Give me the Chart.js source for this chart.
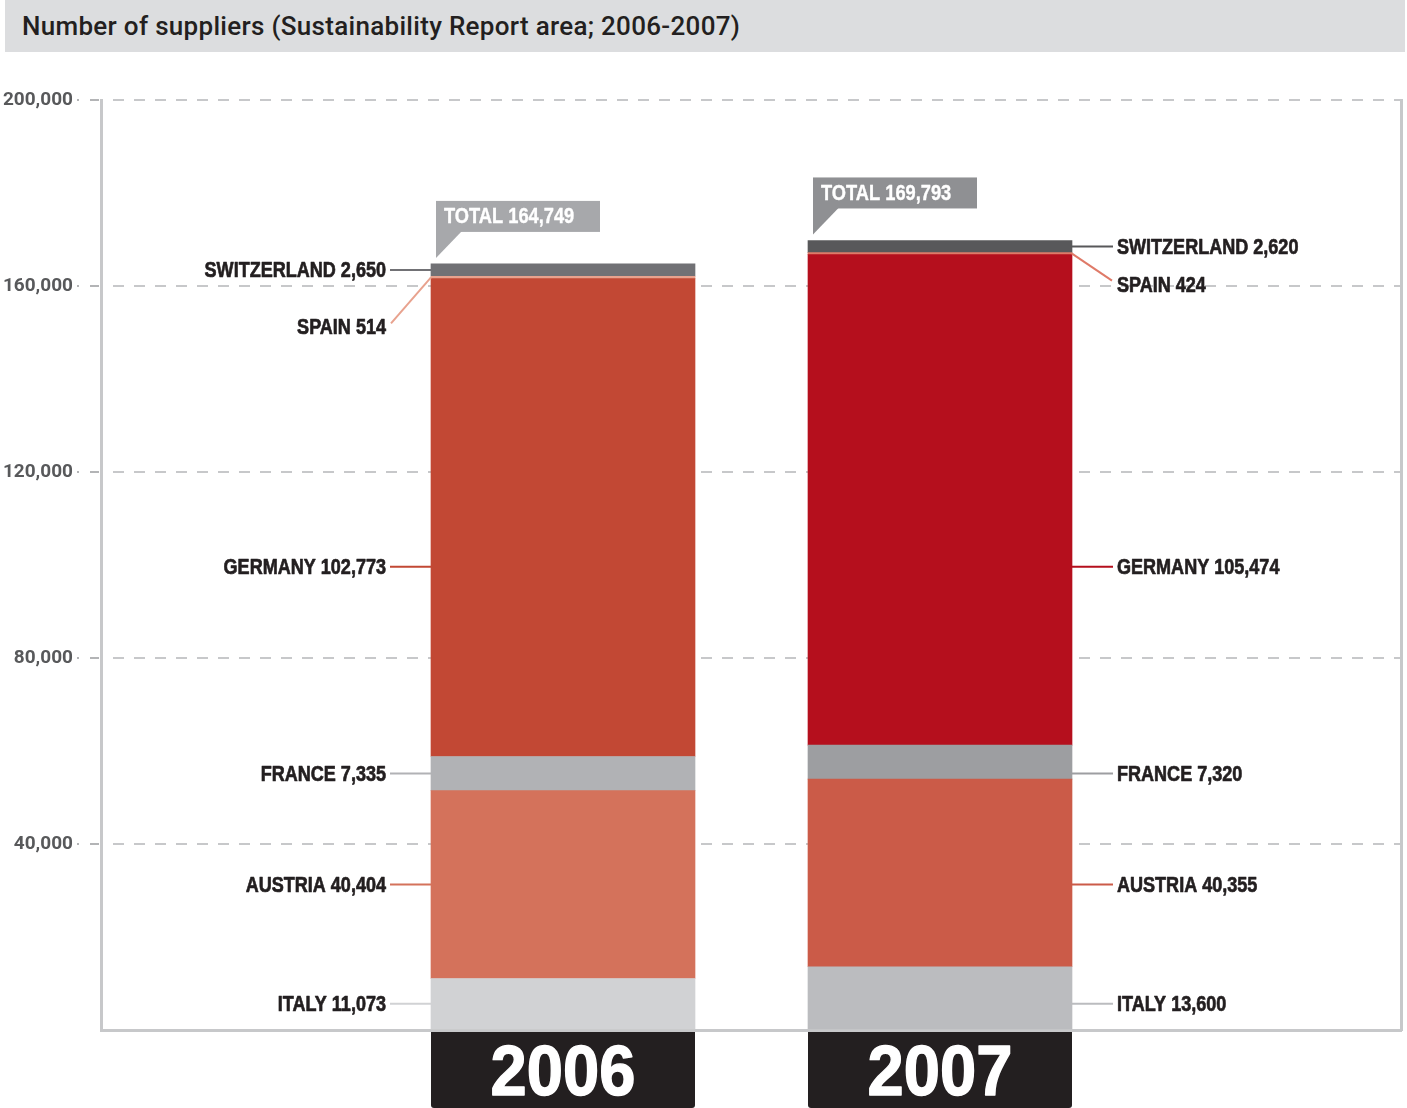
<!DOCTYPE html>
<html>
<head>
<meta charset="utf-8">
<title>Number of suppliers</title>
<script src="https://cdn.jsdelivr.net/npm/chart.js@4.4.1/dist/chart.umd.min.js"></script>
<style>
  body { margin: 0; background: #fff; }
  #wrap { position: relative; width: 1407px; height: 1108px; }
  #title {
    position: absolute; left: 5px; top: 0; width: 1400px; height: 52px;
    box-sizing: border-box; padding-left: 17px; background: #dcdddf;
    font: 500 26px Roboto, sans-serif; letter-spacing: 0.3px; line-height: 52px; color: #231f20;
  }
  canvas { position: absolute; left: 0; top: 0; }
</style>
</head>
<body>
<div id="wrap">
  <canvas id="suppliers-chart" width="1407" height="1108"></canvas>
  <div id="title">Number of suppliers (Sustainability Report area; 2006-2007)</div>
</div>
<script>
// data
var categories = ["2006", "2007"];
var countries = ["ITALY", "AUSTRIA", "FRANCE", "GERMANY", "SPAIN", "SWITZERLAND"];
var italy = [11073, 13600];
var austria = [40404, 40355];
var france = [7335, 7320];
var germany = [102773, 105474];
var spain = [514, 424];
var switzerland = [2650, 2620];
var totals = [164749, 169793];
var yTicks = [40000, 80000, 120000, 160000, 200000];

// styles, one colour per year for every country
var palette = [
  ["#d1d2d4", "#bbbcbf"],
  ["#d4725b", "#cb5b48"],
  ["#b1b2b5", "#9d9ea1"],
  ["#c24834", "#b50f1d"],
  ["#e8a28e", "#df7a68"],
  ["#717175", "#58585a"]
];
var totalColors = ["#a7a8ab", "#8f9093"];
var series = [italy, austria, france, germany, spain, switzerland];

var sans = '"Liberation Sans", Arial, sans-serif';
var fmt = function (v) { return v.toLocaleString("en-US"); };

// label placement (not data)
var germanyLabelAt = 99600;
var spainDrop = [46, 27];

// condensed heavy text: regular bold face squeezed and thickened
function squeezed(ctx, text, x, y, align, sx, weight) {
  ctx.save();
  ctx.translate(x, y);
  ctx.scale(sx, 1);
  ctx.textAlign = align;
  ctx.fillText(text, 0, 0);
  ctx.strokeStyle = ctx.fillStyle;
  ctx.lineWidth = weight;
  ctx.lineJoin = "round";
  ctx.strokeText(text, 0, 0);
  ctx.restore();
}

var annotate = {
  id: "annotate",
  afterDatasetsDraw: function (chart) {
    var ctx = chart.ctx;
    var y = chart.scales.y;
    var area = chart.chartArea;
    var metas = series.map(function (s, i) { return chart.getDatasetMeta(i); });
    ctx.save();
    categories.forEach(function (year, j) {
      var bar = metas[0].data[j];
      var left = bar.x - bar.width / 2;
      var right = bar.x + bar.width / 2;
      var side = j === 0 ? -1 : 1;
      var edge = j === 0 ? left : right;

      // country labels with leader lines
      ctx.font = "bold 22px " + sans;
      ctx.textBaseline = "middle";
      countries.forEach(function (name, i) {
        var el = metas[i].data[j];
        var segY = (el.y + el.base) / 2;
        var ly;
        ctx.lineWidth = 2;
        ctx.strokeStyle = palette[i][j];
        ctx.beginPath();
        if (name === "SPAIN") {
          ly = segY + spainDrop[j];
          ctx.moveTo(edge, segY);
          ctx.lineTo(edge + side * 40, ly);
          ly += 4;
        } else {
          if (name === "GERMANY") ly = y.getPixelForValue(germanyLabelAt);
          else if (name === "SWITZERLAND") ly = segY;
          else ly = (metas[i].data[0].y + metas[i].data[0].base) / 2;
          ctx.moveTo(edge, ly);
          ctx.lineTo(edge + side * 41, ly);
        }
        ctx.stroke();
        ctx.fillStyle = "#231f20";
        squeezed(ctx, name + " " + fmt(series[i][j]), edge + side * 45, ly + 1,
          side < 0 ? "right" : "left", 0.82, 0.7);
      });

      // total callout
      var top = metas[metas.length - 1].data[j].y;
      var bx = left + 5, bBottom = top - 32, bh = 31, bw = 164;
      ctx.fillStyle = totalColors[j];
      ctx.fillRect(bx, bBottom - bh, bw, bh);
      ctx.beginPath();
      ctx.moveTo(bx, bBottom - 1);
      ctx.lineTo(bx + 26, bBottom - 1);
      ctx.lineTo(bx, bBottom + 26);
      ctx.closePath();
      ctx.fill();
      ctx.fillStyle = "#ffffff";
      squeezed(ctx, "TOTAL " + fmt(totals[j]), bx + 8, bBottom - bh / 2 + 1, "left", 0.83, 0.4);

      // year box under the bar
      ctx.fillStyle = "#231f20";
      ctx.beginPath();
      ctx.roundRect(left, area.bottom + 2, bar.width, chart.height - area.bottom - 2, [0, 0, 3, 3]);
      ctx.fill();
      ctx.fillStyle = "#ffffff";
      ctx.font = "bold 70px " + sans;
      ctx.textBaseline = "alphabetic";
      squeezed(ctx, year, bar.x, chart.height - 13, "center", 0.93, 1.4);
    });
    ctx.restore();
  }
};

var hideZero = function (c, color) {
  return c.tick && c.tick.value === 0 ? "rgba(0,0,0,0)" : color;
};

var config = {
  type: "bar",
  data: {
    datasets: countries.map(function (name, i) {
      return {
        label: name,
        data: categories.map(function (c, j) { return { x: j, y: series[i][j] }; }),
        backgroundColor: palette[i],
        borderWidth: 0,
        barThickness: 264
      };
    })
  },
  options: {
    responsive: false,
    animation: false,
    layout: { padding: { top: 100, right: 6, bottom: 78, left: 0 } },
    plugins: { legend: { display: false }, tooltip: { enabled: false } },
    scales: {
      x: {
        type: "linear",
        stacked: true,
        offset: false,
        min: -1.22546,
        max: 2.22281,
        ticks: { display: false },
        grid: { display: false, drawTicks: false, offset: false },
        border: { display: true, color: "#c7c8ca", width: 3 },
        afterFit: function (s) { s.height = 0; }
      },
      y: {
        stacked: true,
        min: 0,
        max: 200000,
        afterBuildTicks: function (s) {
          s.ticks = [0].concat(yTicks).map(function (v) { return { value: v }; });
        },
        afterFit: function (s) { s.width = 101; },
        ticks: {
          padding: 4,
          color: "#58595b",
          font: { family: "Roboto", weight: "bold", size: 19 },
          callback: function (v) { return v === 0 ? "" : fmt(v); }
        },
        grid: {
          color: function (c) { return hideZero(c, "#c7c8ca"); },
          lineWidth: 2,
          tickLength: 24,
          tickWidth: 2,
          tickColor: function (c) { return hideZero(c, "#b3b4b6"); },
          tickBorderDash: [2, 11, 9, 10]
        },
        border: { display: true, color: "#c7c8ca", width: 3, dash: [11, 10], dashOffset: 11 }
      },
      y2: {
        position: "right",
        min: 0,
        max: 200000,
        ticks: { display: false },
        grid: { display: false, drawTicks: false },
        border: { display: true, color: "#c7c8ca", width: 3 },
        afterFit: function (s) { s.width = 0; }
      }
    }
  },
  plugins: [annotate]
};

var ctx = document.getElementById("suppliers-chart").getContext("2d");
window.suppliersChart = new Chart(ctx, config);
</script>
</body>
</html>
